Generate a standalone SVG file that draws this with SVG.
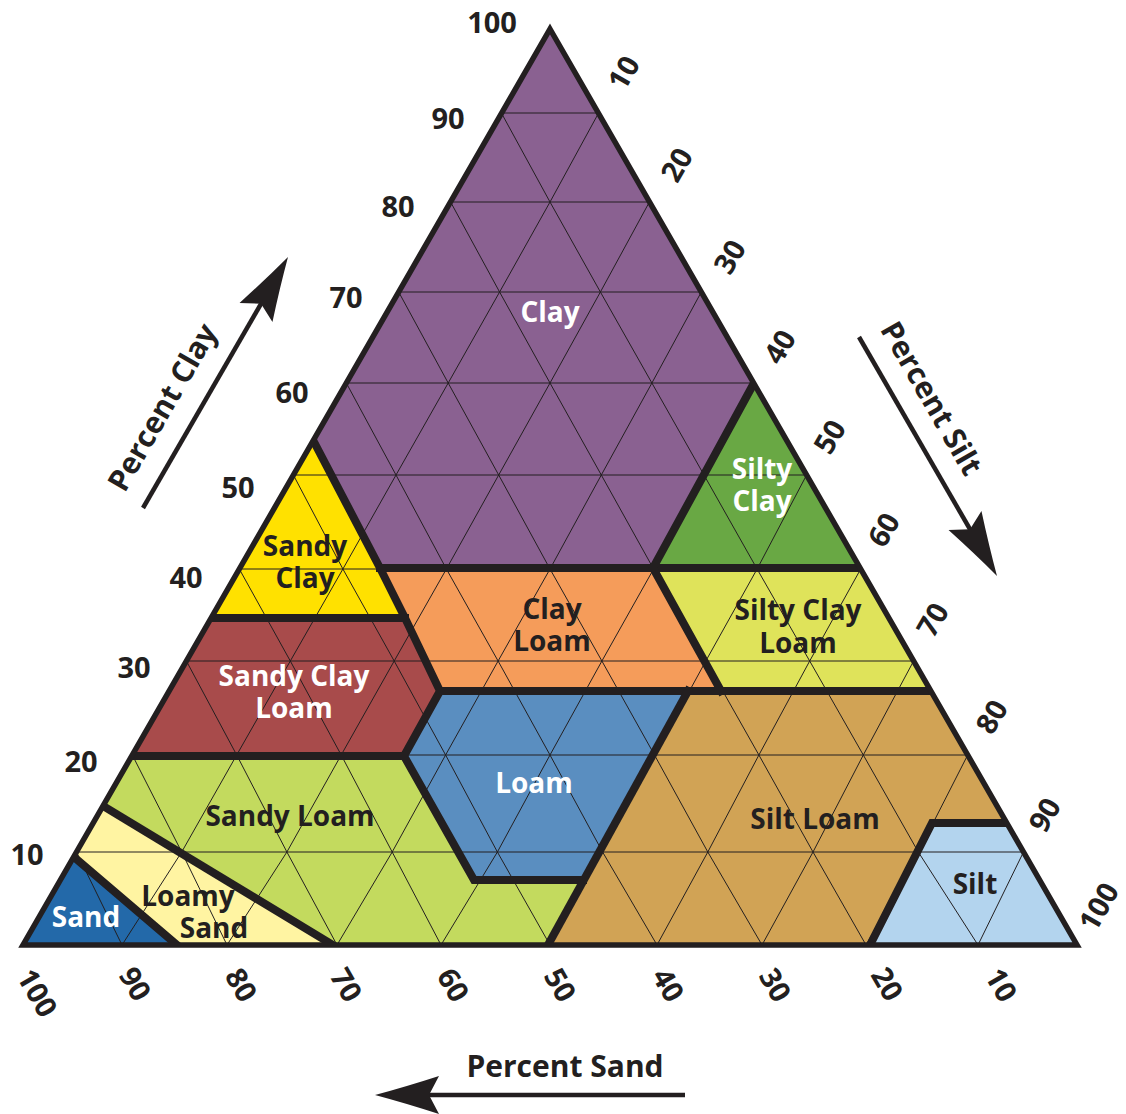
<svg xmlns="http://www.w3.org/2000/svg" xmlns:xlink="http://www.w3.org/1999/xlink" width="1126" height="1114" viewBox="0 0 1126 1114">
<style>
text{font-family:"Open Sans","Liberation Sans",sans-serif;font-weight:700}
.lbl{font-size:28px;text-anchor:middle}
.w{fill:#ffffff}
.d{fill:#231f20}
.num{font-size:29px;fill:#231f20;text-anchor:middle}
.ttl{font-size:30px;fill:#231f20;text-anchor:middle}
.grid{fill:none;stroke:#231f20;stroke-width:1}
.bd{fill:none;stroke:#231f20;stroke-width:8;stroke-linejoin:miter;stroke-linecap:square}
.arr{fill:none;stroke:#231f20;stroke-width:4.5}
.ah{fill:#231f20}
</style>
<defs>
<polygon id="p-clay" points="550,29 754,383 653,568 380,568 313,440"/>
<polygon id="p-siltyclay" points="754,383 861,568 653,568"/>
<polygon id="p-sandyclay" points="313,440 380,568 405,618 211,618"/>
<polygon id="p-clayloam" points="380,568 653,568 721,691 440,691 405,618"/>
<polygon id="p-siltyclayloam" points="653,568 861,568 931,691 721,691"/>
<polygon id="p-sandyclayloam" points="211,618 405,618 440,691 404,756 132,756"/>
<polygon id="p-loam" points="440,691 688,691 583,880 474,880 404,756"/>
<polygon id="p-siltloam" points="688,691 931,691 1007,823 932,823 870,945 548,945"/>
<polygon id="p-sandyloam" points="132,756 404,756 474,880 583,880 548,945 333,945 103,806"/>
<polygon id="p-loamysand" points="103,806 333,945 177,945 74,857"/>
<polygon id="p-sand" points="74,857 177,945 23,945"/>
<polygon id="p-silt" points="932,823 1007,823 1077,945 870,945"/>
<clipPath id="c-clay"><use xlink:href="#p-clay"/></clipPath>
<clipPath id="c-siltyclay"><use xlink:href="#p-siltyclay"/></clipPath>
<clipPath id="c-sandyclay"><use xlink:href="#p-sandyclay"/></clipPath>
<clipPath id="c-clayloam"><use xlink:href="#p-clayloam"/></clipPath>
<clipPath id="c-siltyclayloam"><use xlink:href="#p-siltyclayloam"/></clipPath>
<clipPath id="c-sandyclayloam"><use xlink:href="#p-sandyclayloam"/></clipPath>
<clipPath id="c-loam"><use xlink:href="#p-loam"/></clipPath>
<clipPath id="c-siltloam"><use xlink:href="#p-siltloam"/></clipPath>
<clipPath id="c-sandyloam"><use xlink:href="#p-sandyloam"/></clipPath>
<clipPath id="c-loamysand"><use xlink:href="#p-loamysand"/></clipPath>
<clipPath id="c-sand"><use xlink:href="#p-sand"/></clipPath>
<clipPath id="c-silt"><use xlink:href="#p-silt"/></clipPath>
<clipPath id="c-tri"><polygon points="550,29 1077,945 23,945"/></clipPath>
<path id="grid" class="grid" d="M76.5,852H1023.5 M132.3,755H967.7 M186.4,661H913.6 M239.3,569H860.7 M293.4,475H806.6 M346.3,383H753.7 M398.7,292H701.3 M450.6,202H649.4 M501.4,113H598.6
M122,945L181.7,852L236.7,755L290.3,661L342.9,569L396,475L448.2,383L499.6,292L550,202L598.6,113
M227,945L286.9,852L341.2,755L394.2,661L446.4,569L498.7,475L550,383L600.4,292L649.4,202
M337,945L392.2,852L445.6,755L498.1,661L550,569L601.3,475L651.9,383L701.3,292
M441,945L497.4,852L550,755L601.9,661L653.6,569L704,475L753.7,383
M550,945L602.6,852L654.5,755L705.8,661L757.1,569L806.6,475
M657,945L707.8,852L758.9,755L809.7,661L860.7,569
M762,945L813,852L863.3,755L913.6,661
M866,945L918.3,852L967.7,755
M978,945L1023.5,852
M122,945L76.5,852
M227,945L181.7,852L132.3,755
M337,945L286.9,852L236.7,755L186.4,661
M441,945L392.2,852L341.2,755L290.3,661L239.3,569
M550,945L497.4,852L445.6,755L394.2,661L342.9,569L293.4,475
M657,945L602.6,852L550,755L498.1,661L446.4,569L396,475L346.3,383
M762,945L707.8,852L654.5,755L601.9,661L550,569L498.7,475L448.2,383L398.7,292
M866,945L813,852L758.9,755L705.8,661L653.6,569L601.3,475L550,383L499.6,292L450.6,202
M978,945L918.3,852L863.3,755L809.7,661L757.1,569L704,475L651.9,383L600.4,292L550,202L501.4,113"/>
<path id="ah" class="ah" d="M0,0 Q-30,-8 -64,-19 L-54,0 L-64,19 Q-30,8 0,0 Z"/>
</defs>

<g id="clay">
<use xlink:href="#p-clay" fill="#8a6191"/>
<use xlink:href="#grid" clip-path="url(#c-clay)"/>
<text class="lbl w" x="550" y="322">Clay</text>
</g>
<g id="silty-clay">
<use xlink:href="#p-siltyclay" fill="#69a844"/>
<use xlink:href="#grid" clip-path="url(#c-siltyclay)"/>
<text class="lbl w" x="762" y="479">Silty<tspan x="762" y="511">Clay</tspan></text>
</g>
<g id="sandy-clay">
<use xlink:href="#p-sandyclay" fill="#ffe100"/>
<use xlink:href="#grid" clip-path="url(#c-sandyclay)"/>
<text class="lbl d" x="305" y="556">Sandy<tspan x="305" y="588">Clay</tspan></text>
</g>
<g id="clay-loam">
<use xlink:href="#p-clayloam" fill="#f59c5a"/>
<use xlink:href="#grid" clip-path="url(#c-clayloam)"/>
<text class="lbl d" x="552" y="619">Clay<tspan x="552" y="651">Loam</tspan></text>
</g>
<g id="silty-clay-loam">
<use xlink:href="#p-siltyclayloam" fill="#dfe35a"/>
<use xlink:href="#grid" clip-path="url(#c-siltyclayloam)"/>
<text class="lbl d" x="798" y="620">Silty Clay<tspan x="798" y="653">Loam</tspan></text>
</g>
<g id="sandy-clay-loam">
<use xlink:href="#p-sandyclayloam" fill="#a84b4b"/>
<use xlink:href="#grid" clip-path="url(#c-sandyclayloam)"/>
<text class="lbl w" x="294" y="686">Sandy Clay<tspan x="294" y="718">Loam</tspan></text>
</g>
<g id="loam">
<use xlink:href="#p-loam" fill="#5a8ec0"/>
<use xlink:href="#grid" clip-path="url(#c-loam)"/>
<text class="lbl w" x="534" y="793">Loam</text>
</g>
<g id="silt-loam">
<use xlink:href="#p-siltloam" fill="#d1a355"/>
<use xlink:href="#grid" clip-path="url(#c-siltloam)"/>
<text class="lbl d" x="815" y="829">Silt Loam</text>
</g>
<g id="sandy-loam">
<use xlink:href="#p-sandyloam" fill="#c3da5e"/>
<use xlink:href="#grid" clip-path="url(#c-sandyloam)"/>
<text class="lbl d" x="290" y="826">Sandy Loam</text>
</g>
<g id="loamy-sand">
<use xlink:href="#p-loamysand" fill="#fff4a2"/>
<use xlink:href="#grid" clip-path="url(#c-loamysand)"/>
<text class="lbl d" x="188" y="906">Loamy<tspan x="214" y="938">Sand</tspan></text>
</g>
<g id="sand">
<use xlink:href="#p-sand" fill="#2369a9"/>
<use xlink:href="#grid" clip-path="url(#c-sand)"/>
<text class="lbl w" x="86" y="927">Sand</text>
</g>
<g id="silt">
<use xlink:href="#p-silt" fill="#b3d4ee"/>
<use xlink:href="#grid" clip-path="url(#c-silt)"/>
<text class="lbl d" x="975" y="894">Silt</text>
</g>

<g id="connectors">
<g clip-path="url(#c-tri)">
<path class="bd" d="M313,440 L380,568 L405,618 L440,691 L404,756 L474,880 L583,880"/>
<path class="bd" d="M211,618 L405,618"/>
<path class="bd" d="M380,568 L861,568"/>
<path class="bd" d="M754,383 L653,568 L721,691"/>
<path class="bd" d="M440,691 L931,691"/>
<path class="bd" d="M132,756 L404,756"/>
<path class="bd" d="M548,945 L688,691"/>
<path class="bd" d="M870,945 L932,823 L1007,823"/>
<path class="bd" d="M103,806 L333,945"/>
<path class="bd" d="M74,857 L177,945"/>
</g>
<polygon points="550,29 1077,945 23,945" fill="none" stroke="#231f20" stroke-width="5.5" stroke-linejoin="miter"/>
<line class="arr" x1="143" y1="508" x2="273" y2="283"/>
<use xlink:href="#ah" transform="translate(288,257) rotate(-60)"/>
<line class="arr" x1="859" y1="337" x2="982" y2="550"/>
<use xlink:href="#ah" transform="translate(997,576) rotate(60)"/>
<line class="arr" x1="685" y1="1095" x2="410" y2="1095"/>
<use xlink:href="#ah" transform="translate(375,1095) rotate(180)"/>
</g>

<g id="clay-axis">
<text class="num" x="492" y="33">100</text>
<text class="num" x="448" y="129">90</text>
<text class="num" x="398" y="217">80</text>
<text class="num" x="346" y="308">70</text>
<text class="num" x="292" y="403">60</text>
<text class="num" x="238" y="498">50</text>
<text class="num" x="186" y="588">40</text>
<text class="num" x="134" y="678">30</text>
<text class="num" x="81" y="772">20</text>
<text class="num" x="27" y="865">10</text>
<text class="ttl" transform="translate(162,407) rotate(-60)" x="0" y="11">Percent Clay</text>
</g>
<g id="silt-axis">
<text class="num" transform="translate(624,73) rotate(-60)" x="0" y="10">10</text>
<text class="num" transform="translate(677,165) rotate(-60)" x="0" y="10">20</text>
<text class="num" transform="translate(730,257) rotate(-60)" x="0" y="10">30</text>
<text class="num" transform="translate(780,347) rotate(-60)" x="0" y="10">40</text>
<text class="num" transform="translate(830,437) rotate(-60)" x="0" y="10">50</text>
<text class="num" transform="translate(884,530) rotate(-60)" x="0" y="10">60</text>
<text class="num" transform="translate(933,620) rotate(-60)" x="0" y="10">70</text>
<text class="num" transform="translate(992,717) rotate(-60)" x="0" y="10">80</text>
<text class="num" transform="translate(1045,815) rotate(-60)" x="0" y="10">90</text>
<text class="num" transform="translate(1099,907) rotate(-60)" x="0" y="10">100</text>
<text class="ttl" transform="translate(932,398) rotate(60)" x="0" y="11">Percent Silt</text>
</g>
<g id="sand-axis">
<text class="num" transform="translate(37,993) rotate(60)" x="0" y="10">100</text>
<text class="num" transform="translate(135,984) rotate(60)" x="0" y="10">90</text>
<text class="num" transform="translate(241,985) rotate(60)" x="0" y="10">80</text>
<text class="num" transform="translate(346,985) rotate(60)" x="0" y="10">70</text>
<text class="num" transform="translate(453,985) rotate(60)" x="0" y="10">60</text>
<text class="num" transform="translate(560,985) rotate(60)" x="0" y="10">50</text>
<text class="num" transform="translate(668,985) rotate(60)" x="0" y="10">40</text>
<text class="num" transform="translate(775,985) rotate(60)" x="0" y="10">30</text>
<text class="num" transform="translate(887,984) rotate(60)" x="0" y="10">20</text>
<text class="num" transform="translate(1001,985) rotate(60)" x="0" y="10">10</text>
<text class="ttl" x="565" y="1077">Percent Sand</text>
</g>
</svg>
